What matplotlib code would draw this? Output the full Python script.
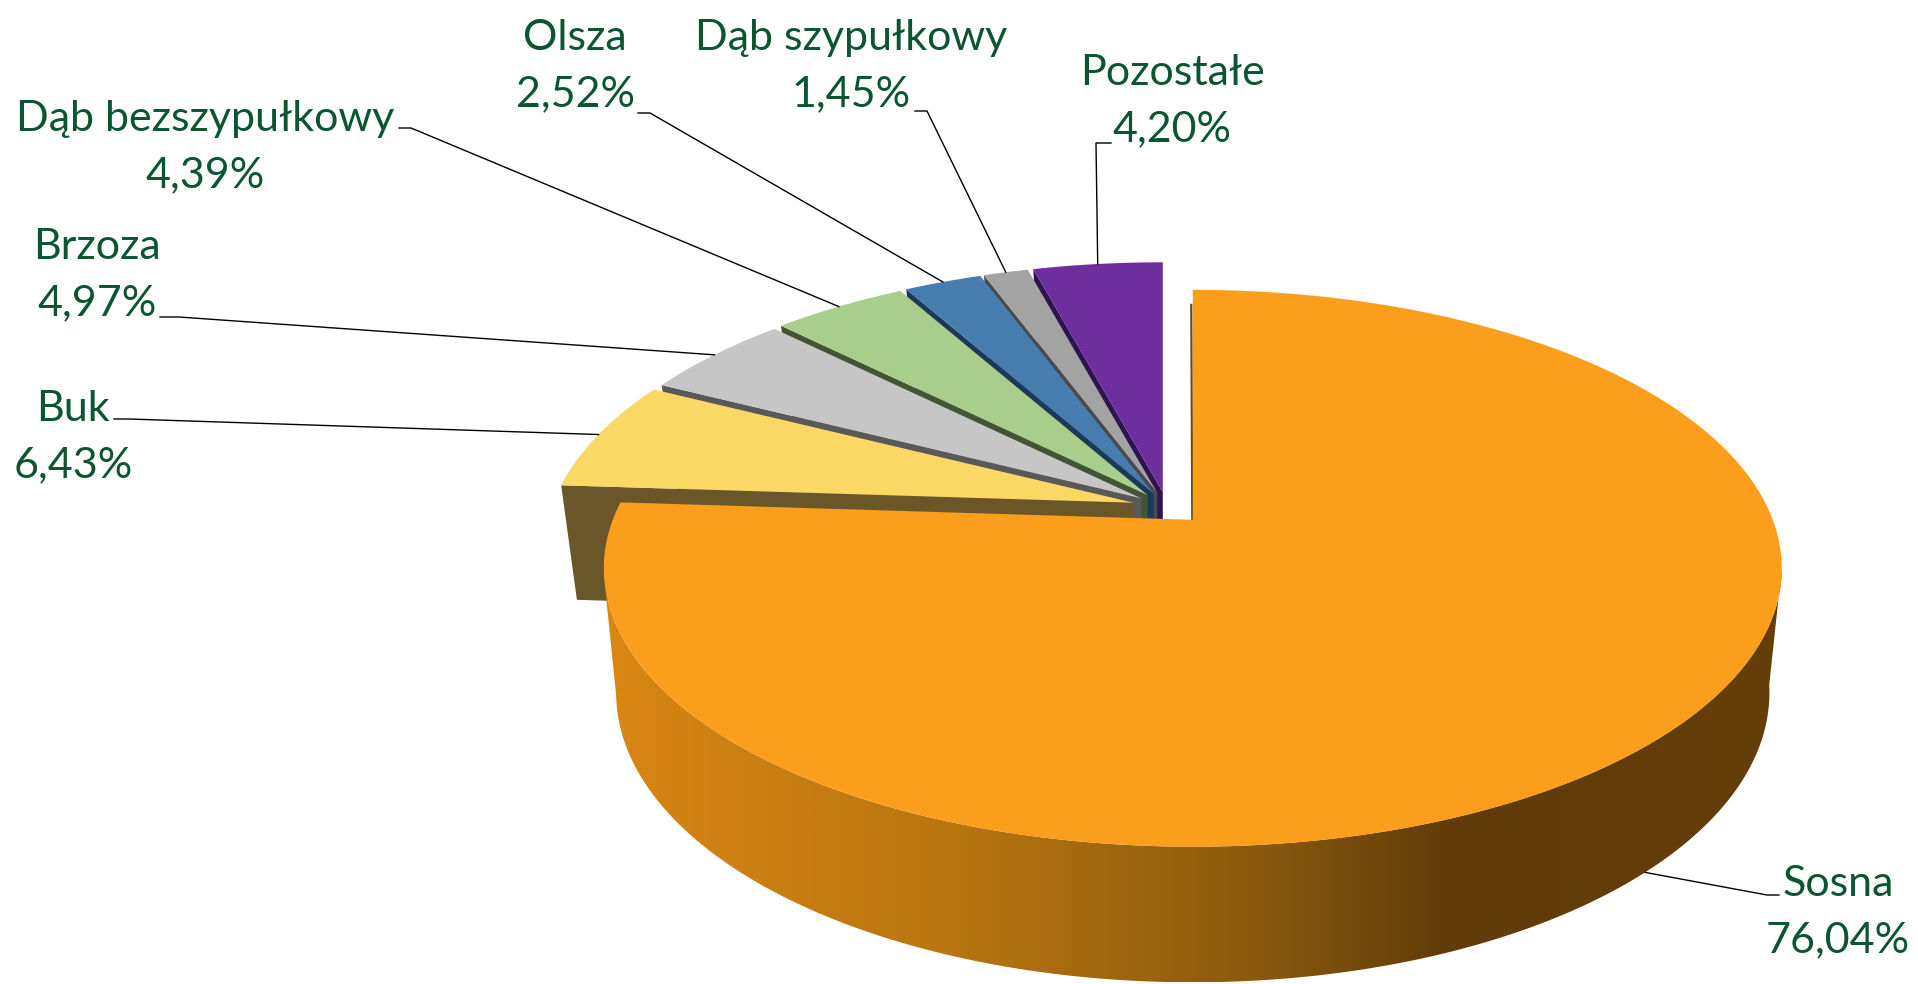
import numpy as np
import matplotlib
matplotlib.use('Agg')
import matplotlib.pyplot as plt
from matplotlib.colors import LinearSegmentedColormap
from matplotlib.patches import Polygon

# Slices, clockwise from 12 o'clock
names = ['Sosna', 'Buk', 'Brzoza', 'Dąb bezszypułkowy', 'Olsza', 'Dąb szypułkowy', 'Pozostałe']
values = [76.04, 6.43, 4.97, 4.39, 2.52, 1.45, 4.20]
explosion = [0.065, 0.06, 0.055, 0.055, 0.055, 0.055, 0.055]

top_colors = ['#FB9E1B', '#FBD765', '#C6C6C6', '#A9CE8B', '#477CAE', '#A3A3A3', '#6E2F9E']
wall_colors = ['#653E0A', '#6A5628', '#595959', '#435532', '#1B3A5A', '#4A4A4A', '#2E1450']

# Label centres and where the leader leaves the label
label_pos = [(1838, 912), (73, 437), (97, 275), (205, 147), (575, 66), (851, 66), (1172, 101)]
elbows = [[(1779, 895), (1767, 895)], [(114, 419), (129, 419)], [(160, 317), (179, 317)],
          [(399, 128), (411, 128)], [(638, 113), (650, 113)], [(915, 111), (927, 111)],
          [(1111, 143), (1096, 143)]]

# Sosna's front wall shading, left to right
shade_colors = ['#DA8613', '#B87510', '#8B5A0D', '#613B09', '#653E0A']
shade_stops = [0, 0.3, 0.55, 0.72, 1]

# Projection of the 3D pie (top plane and bottom plane)
cx, cy = 1167, 507
R, S, p = 580, 270, 0.174
R_b, S_b, p_b = 565, 278, 0.2
depth = 115


def project(theta, ox, oy, r, s, k):
    # theta in degrees, clockwise from the back of the pie
    t = np.radians(theta)
    w = 1 + k * np.cos(t)
    return np.column_stack([ox + r * np.sin(t) / w, oy - s * np.cos(t) / w])


def top_arc(theta, ox, oy):
    return project(theta, ox, oy, R, S, p)


def bottom_arc(theta, ox, oy):
    return project(theta, ox, oy + depth, R_b, S_b, p_b)


edges = np.concatenate([[0], np.cumsum(values)]) / sum(values) * 360
mids = (edges[:-1] + edges[1:]) / 2
apex_x = cx + np.array(explosion) * R * np.sin(np.radians(mids))
apex_y = cy - np.array(explosion) * S * np.cos(np.radians(mids))

fig = plt.figure(figsize=(19.18, 9.84), dpi=100)
ax = fig.add_axes([0, 0, 1, 1])

# Small slices, back to front, each with the wall on its lower edge
for i in range(len(values) - 1, 0, -1):
    ox, oy = apex_x[i], apex_y[i]
    a = top_arc(np.array([edges[i]]), ox, oy)
    b = bottom_arc(np.array([edges[i]]), ox, oy)
    wall = [(ox, oy), tuple(a[0]), tuple(b[0]), (ox, oy + depth)]
    ax.add_patch(Polygon(wall, closed=True, fc=wall_colors[i], ec='none', zorder=2))
    arc = top_arc(np.linspace(edges[i], edges[i + 1], 60), ox, oy)
    ax.add_patch(Polygon(np.vstack([[ox, oy], arc]), closed=True, fc=top_colors[i], ec='none', zorder=2))

# Sosna: shaded outer wall then the top
ox, oy = apex_x[0], apex_y[0]
th = np.linspace(100, 258, 200)
shell = np.vstack([top_arc(th, ox, oy), bottom_arc(th, ox, oy)[::-1]])
clip = Polygon(shell, closed=True, fc='none', ec='none', zorder=3)
ax.add_patch(clip)
cmap = LinearSegmentedColormap.from_list('shade', list(zip(shade_stops, shade_colors)))
x0, x1 = shell[:, 0].min(), shell[:, 0].max()
y0, y1 = shell[:, 1].min(), shell[:, 1].max()
img = ax.imshow(np.linspace(0, 1, 512)[None, :], cmap=cmap, extent=[x0, x1, y1, y0], aspect='auto', zorder=3)
img.set_clip_path(clip)

start = top_arc(np.array([edges[0]]), ox, oy)
ax.plot([start[0, 0] - 1.5, ox - 0.5, ox + 1], [start[0, 1] + 15, oy, oy], color='#6B4A10', lw=1.6, zorder=3)
arc = top_arc(np.linspace(edges[0], edges[1], 300), ox, oy)
ax.add_patch(Polygon(np.vstack([[ox, oy], arc]), closed=True, fc=top_colors[0], ec='none', zorder=4))

# Labels and leader lines
for i, name in enumerate(names):
    pct = f'{values[i]:.2f}%'.replace('.', ',')
    ax.text(label_pos[i][0], label_pos[i][1], f'{name}\n{pct}', ha='center', va='center', ma='center',
            family='Lato', fontsize=31, color='#0B5530', linespacing=1.6, zorder=6)
    if i == 0:
        tip = bottom_arc(np.array([mids[i]]), apex_x[i], apex_y[i])[0]
    else:
        tip = top_arc(np.array([mids[i]]), apex_x[i], apex_y[i])[0]
    xs = [elbows[i][0][0], elbows[i][1][0], tip[0]]
    ys = [elbows[i][0][1], elbows[i][1][1], tip[1]]
    ax.plot(xs, ys, color='black', lw=1.0, zorder=5)

ax.set_xlim(0, 1918)
ax.set_ylim(984, 0)
ax.axis('off')
fig.savefig('out.png', dpi=100, facecolor='white')
